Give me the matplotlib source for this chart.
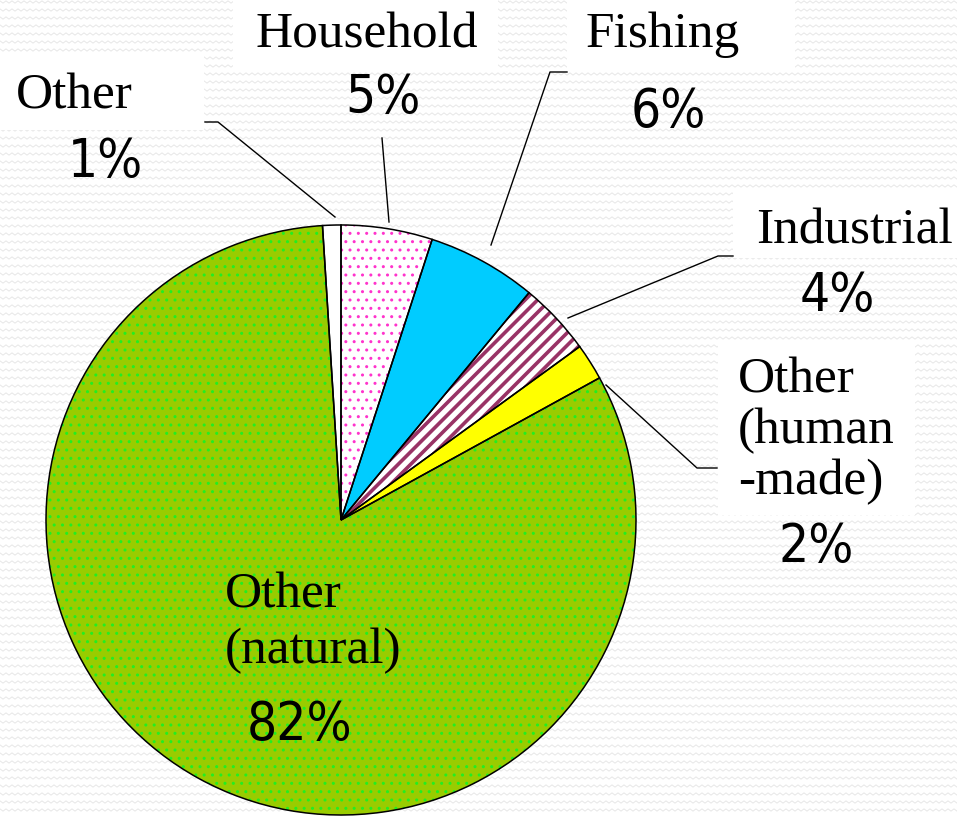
import numpy as np
import matplotlib.pyplot as plt
from matplotlib.patches import Rectangle
from matplotlib.collections import LineCollection
from matplotlib import font_manager

# slices, clockwise from 12 o'clock
labels = ['Household', 'Fishing', 'Industrial', 'Other\n(human\n-made)', 'Other\n(natural)', 'Other']
shares = [5, 6, 4, 2, 82, 1]
pct_text = ['5%', '6%', '4%', '2%', '82%', '1%']
fills = ['white', '#00CCFF', 'white', '#FFFF00', '#99CC00', 'white']
hatches = ['..', None, None, None, '..', None]
hatch_cols = ['#FF33CC', '#00CCFF', 'white', '#FFFF00', '#22EE22', 'white']
explode = [0.02, 0.02, 0.02, 0.02, 0.0, 0.02]

W, H = 957, 817
fig = plt.figure(figsize=(W / 100, H / 100), dpi=100)
ax = fig.add_axes([0, 0, 1, 1])

# faint zigzag background
xs = np.arange(0, W + 6, 3.0)
segs = []
for y0 in np.arange(2, H, 8):
    ys = y0 + np.where(np.arange(len(xs)) % 2 == 0, -1.2, 1.2)
    segs.append(np.column_stack([xs, ys]))
ax.add_collection(LineCollection(segs, colors='#e4e4e4', linewidths=0.6, zorder=0))

cx, cy, R = 341, 520, 295

# fill + hatch pass (y axis is inverted, so counterclock=True draws clockwise)
wedges, _ = ax.pie(shares, colors=fills, hatch=hatches, explode=explode, startangle=-90,
                   counterclock=True, center=(cx, cy), radius=R,
                   wedgeprops=dict(linewidth=0), frame=True)
for w, hc in zip(wedges, hatch_cols):
    w.set_edgecolor(hc)
    w.set_zorder(2)

# purple stripes on the industrial slice
for c in np.arange(500, 1400, 12.5):
    ln, = ax.plot([300, 800], [c - 300, c - 800], color='#993366', lw=2.6,
                  solid_capstyle='butt', zorder=2.5)
    ln.set_clip_path(wedges[2])

# outline pass
outl, _ = ax.pie(shares, explode=explode, startangle=-90, counterclock=True,
                 center=(cx, cy), radius=R, frame=True,
                 wedgeprops=dict(fill=False, edgecolor='black', linewidth=1.1))
for w in outl:
    w.set_zorder(3)

# white label boxes
for (x0, y0, bw, bh) in [(233, 0, 265, 70), (567, 0, 228, 72), (0, 52, 204, 78),
                         (733, 188, 224, 70), (718, 340, 197, 175)]:
    ax.add_patch(Rectangle((x0, y0), bw, bh, facecolor='white', edgecolor='none', zorder=1))

# leader lines
for pts in [[(205, 122), (218, 122), (335, 217)],
            [(382, 138), (389, 222)],
            [(491, 245), (550, 72), (567, 72)],
            [(568, 318), (718, 256), (733, 256)],
            [(606, 385), (697, 468), (717, 468)]]:
    px, py = zip(*pts)
    ax.plot(px, py, color='black', lw=1.0, zorder=3)

serif = ['Liberation Serif', 'DejaVu Serif']
names = {f.name for f in font_manager.fontManager.ttflist}
cond = [f.name for f in font_manager.fontManager.ttflist if f.stretch == 'condensed']
if 'DejaVu Sans' in names and any(n == 'DejaVu Sans' for n in cond):
    pct_font = dict(family='DejaVu Sans', stretch='condensed', size=38)
else:
    pct_font = dict(family='Liberation Sans', size=36)

lab_pos = [(367, 47, 'center'), (663, 47, 'center'), (854, 243, 'center'),
           (738, 392, 'left'), (225, 607, 'left'), (74, 108, 'center')]
pct_pos = [(383, 98), (668, 112), (837, 296), (816, 547), (300, 725), (105, 162)]
for lab, (lx, ly, ha), pt, (qx, qy) in zip(labels, lab_pos, pct_text, pct_pos):
    first = lab.split('\n')[0]
    rest = lab.split('\n')[1:]
    ax.text(lx, ly, first, ha=ha, va='baseline', fontsize=37, family=serif, zorder=4)
    step = 51 if 'human' in lab else 56
    for i, line in enumerate(rest):
        ax.text(lx, ly + step * (i + 1), line, ha=ha, va='baseline', fontsize=37,
                family=serif, zorder=4)
    ax.text(qx, qy, pt, ha='center', va='center', zorder=4, **pct_font)

ax.set_xlim(0, W)
ax.set_ylim(H, 0)
ax.set_aspect('auto')
ax.axis('off')

plt.savefig('out.png', dpi=100)
